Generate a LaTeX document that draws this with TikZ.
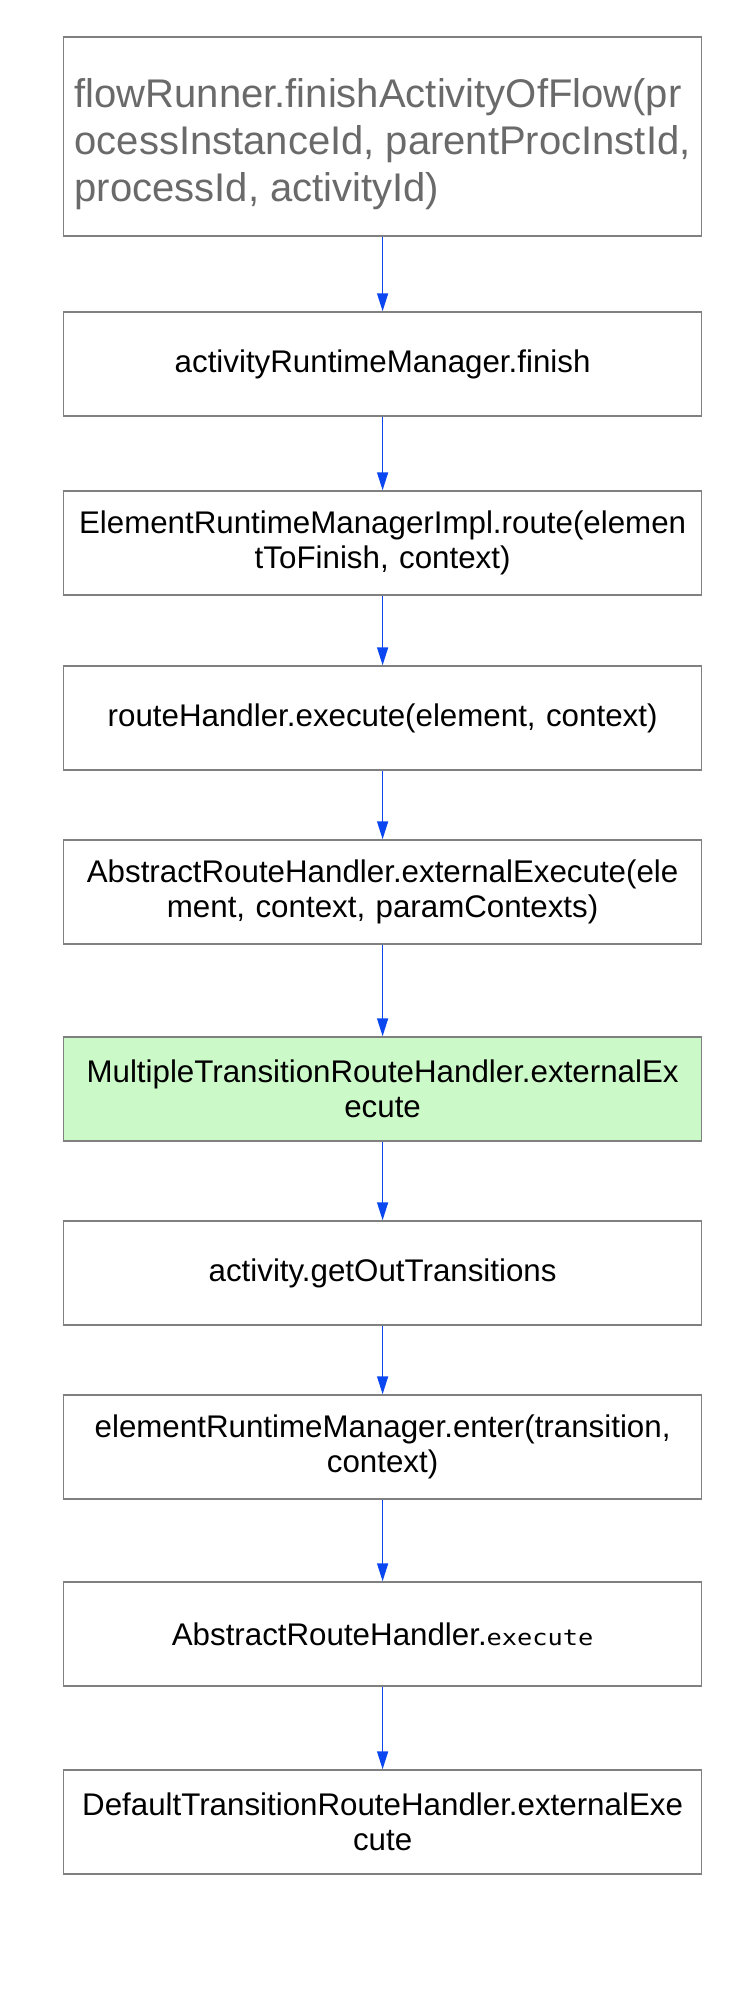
\documentclass[tikz,border=0pt]{standalone}
\usepackage{fontspec}
\setmainfont{Liberation Sans}
\newfontfamily\monofont{DejaVu Sans Mono}[FakeStretch=1.15]
\usetikzlibrary{arrows.meta}
\hyphenpenalty=10000
\exhyphenpenalty=10000
\definecolor{boxline}{HTML}{808080}
\definecolor{arrowblue}{HTML}{0A47F0}
\definecolor{titlegray}{HTML}{6A6A6A}
\definecolor{hlgreen}{HTML}{CCF9C8}
\begin{document}
\begin{tikzpicture}[x=1pt,y=1pt,
  stepbox/.style={draw=boxline, line width=1.5pt, fill=white, minimum width=638pt,
    minimum height=104pt, inner sep=0pt, align=center, text width=625pt,
    font=\fontsize{31.3}{35}\selectfont},
  titlebox/.style={draw=boxline, line width=1.5pt, fill=white, minimum width=638pt,
    minimum height=199pt, inner sep=0pt, align=left,
    text=titlegray, font=\fontsize{40}{47}\selectfont},
  flow/.style={draw=arrowblue, line width=1.5pt, -{Triangle[length=18pt,width=11pt]}}]
\useasboundingbox (0,0) rectangle (750,-1993);
\fill[white] (0,0) rectangle (750,-1993);
\node[titlebox] (n1) at (382.6,-136.5) {\rule{0pt}{44pt}flowRunner.finishActivityOfFlow(pr\\ocessInstanceId, parentProcInstId,\\processId, activityId)};
\node[stepbox] (n2) at (382.6,-364) {activityRuntimeManager.finish};
\node[stepbox] (n3) at (382.6,-543) {ElementRuntimeManagerImpl.route(elemen\\tToFinish, context)};
\node[stepbox] (n4) at (382.6,-718) {routeHandler.execute(element, context)};
\node[stepbox] (n5) at (382.6,-892) {AbstractRouteHandler.externalExecute(ele\\ment, context, paramContexts)};
\node[stepbox, fill=hlgreen] (n6) at (382.6,-1089) {MultipleTransitionRouteHandler.externalEx\\ecute};
\node[stepbox] (n7) at (382.6,-1273) {activity.getOutTransitions};
\node[stepbox] (n8) at (382.6,-1447) {elementRuntimeManager.enter(transition,\\context)};
\node[stepbox] (n9) at (382.6,-1634) {AbstractRouteHandler.{\monofont\fontsize{22}{26}\selectfont execute}};
\node[stepbox] (n10) at (382.6,-1822) {DefaultTransitionRouteHandler.externalExe\\cute};
\foreach \a/\b in {n1/n2,n2/n3,n3/n4,n4/n5,n5/n6,n6/n7,n7/n8,n8/n9,n9/n10}
  \draw[flow] (\a.south) -- (\b.north);
\end{tikzpicture}
\end{document}
